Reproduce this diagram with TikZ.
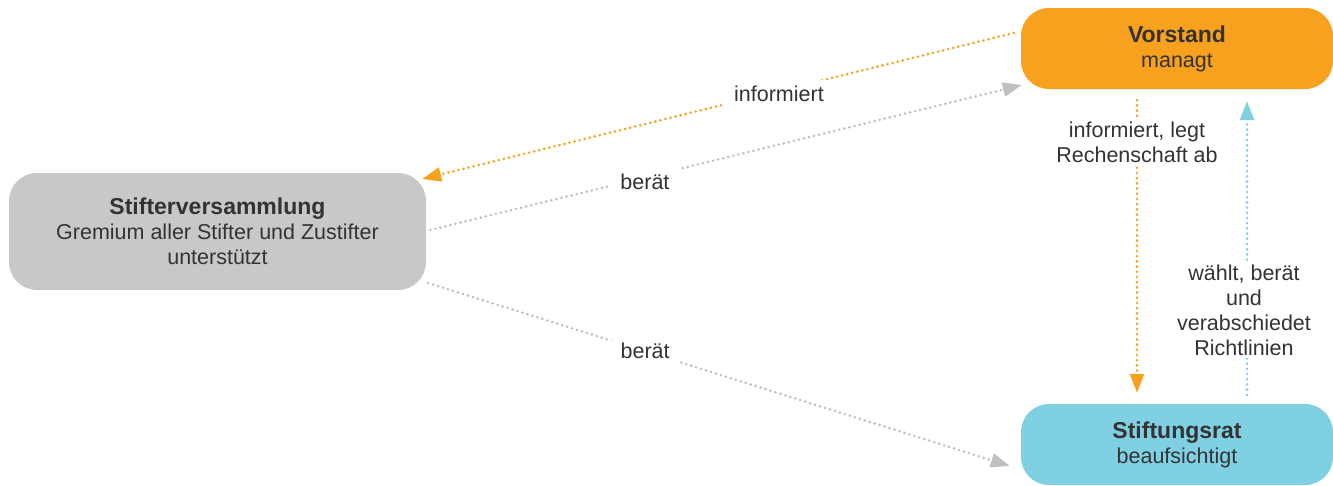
\documentclass[tikz,border=0pt]{standalone}
\usepackage{fontspec}
\setmainfont{Liberation Sans}
\usetikzlibrary{arrows.meta}
\definecolor{boardorange}{HTML}{F7A11F}
\definecolor{assemblygray}{HTML}{C7C8CA}
\definecolor{councilcyan}{HTML}{80D0E3}
\definecolor{linegray}{HTML}{BEBFC1}
\definecolor{linecyan}{HTML}{7ED0E2}
\definecolor{ink}{HTML}{333333}
\newcommand{\organtitle}[1]{{\fontsize{23}{25}\selectfont\bfseries #1}}
\begin{document}
\begin{tikzpicture}[x=1pt,y=-1pt,
  organ/.style={rectangle, rounded corners=28pt, draw=none, align=center,
    text=ink, inner sep=0pt, font=\fontsize{21.5}{25}\selectfont},
  flow/.style={line width=2.9pt, line cap=round, dash pattern=on 0pt off 5.2pt,
    -{Triangle[length=19pt,width=14pt]}},
  tag/.style={fill=white, text=ink, align=center, inner xsep=10pt, inner ysep=3pt,
    font=\fontsize{21.5}{25}\selectfont}
]
\useasboundingbox (0,0) rectangle (1333,485);

% bodies of the foundation
\node[organ, fill=boardorange, minimum width=312pt, minimum height=81pt]
  (vorstand) at (1177,48.5) {\organtitle{Vorstand}\\managt};
\node[organ, fill=assemblygray, minimum width=417pt, minimum height=117pt]
  (stifter) at (217.5,231.5) {\organtitle{Stifterversammlung}\\Gremium aller Stifter und Zustifter\\unterstützt};
\node[organ, fill=councilcyan, minimum width=312pt, minimum height=81pt]
  (rat) at (1177,444.5) {\organtitle{Stiftungsrat}\\beaufsichtigt};

% relations
\draw[flow, draw=boardorange, color=boardorange]
  ([shift={(-7,-15.5)}]vorstand.west) -- ([shift={(-4,-52.5)}]stifter.east)
  node[tag, pos=0.397, yshift=-3pt, inner ysep=6pt, inner xsep=12pt] {informiert};
\draw[flow, draw=linegray, color=linegray]
  ([shift={(4,-1.5)}]stifter.east) -- ([shift={(1,36.5)}]vorstand.west)
  node[tag, pos=0.363, yshift=-4pt, inner ysep=5pt] {berät};
\draw[flow, draw=linegray, color=linegray]
  ([shift={(2,51.5)}]stifter.east) -- ([shift={(-11,21.5)}]rat.west)
  node[tag, pos=0.373] {berät};
\draw[flow, draw=boardorange, color=boardorange]
  ([shift={(-40,11)}]vorstand.south) -- ([shift={(-40,-11)}]rat.north)
  node[tag, pos=0.143, inner xsep=2pt] {informiert, legt\\Rechenschaft ab};
\draw[flow, draw=linecyan, color=linecyan]
  ([shift={(70,-9)}]rat.north) -- ([shift={(70,12)}]vorstand.south)
  node[tag, pos=0.289, inner xsep=2pt, xshift=-3pt] {wählt, berät\\und\\verabschiedet\\Richtlinien};
\end{tikzpicture}
\end{document}
